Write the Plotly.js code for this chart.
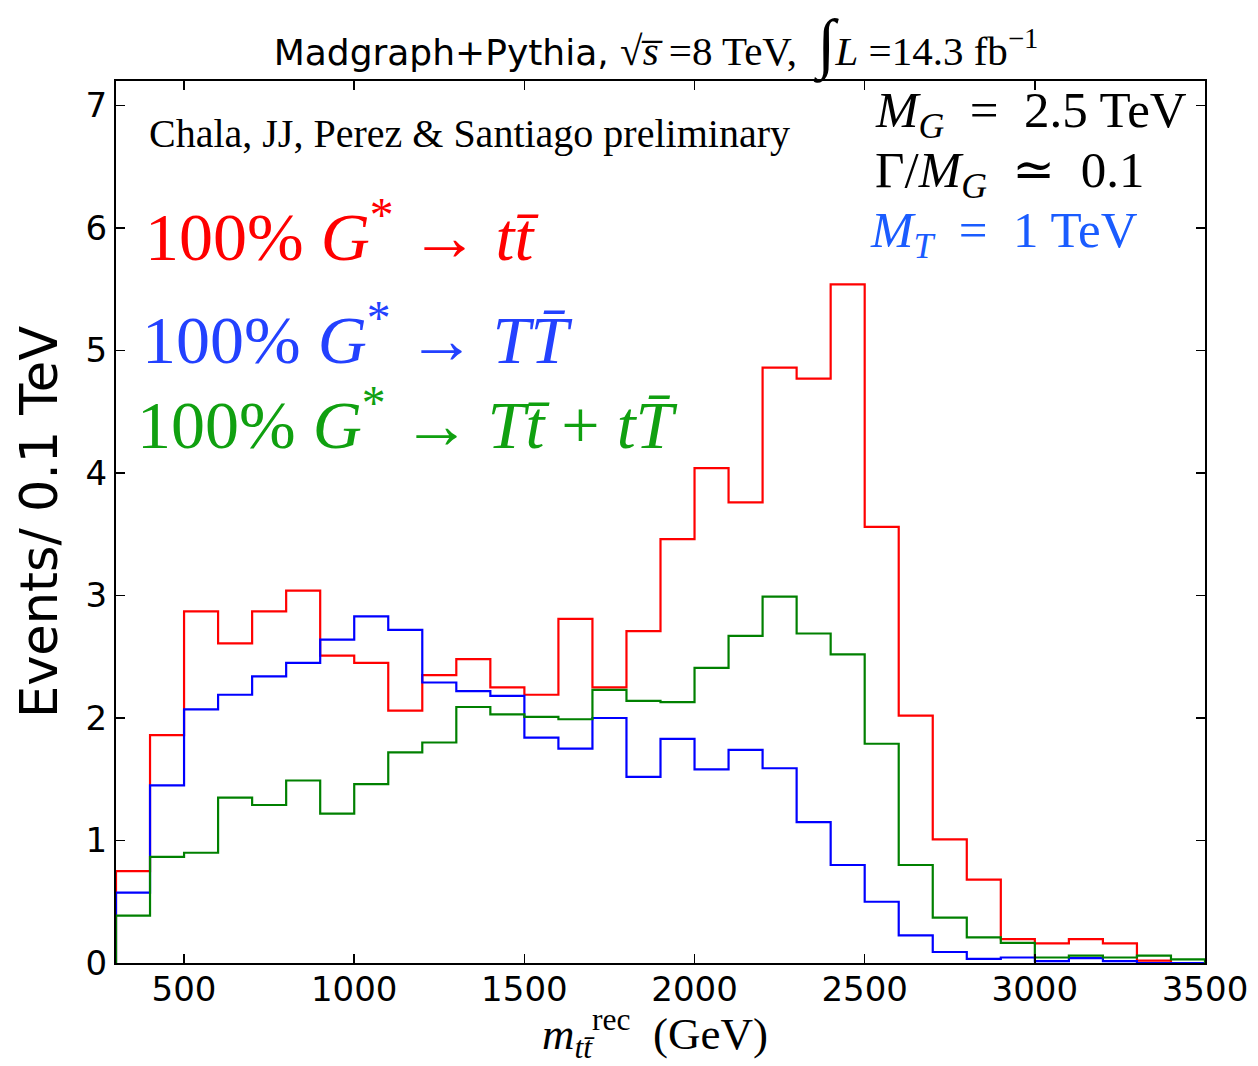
<!DOCTYPE html>
<html>
<head>
<meta charset="utf-8">
<script src="https://cdn.plot.ly/plotly-3.0.1.min.js"></script>
<style>html,body{margin:0;padding:0;background:#fff;}</style>
</head>
<body>
<div id="chart" style="width:1258px;height:1066px;"></div>
<script>
// Bin edges (GeV), 100 GeV bins from 300 to 3500
const binEdges = [300,400,500,600,700,800,900,1000,1100,1200,1300,1400,1500,1600,1700,1800,1900,2000,
                  2100,2200,2300,2400,2500,2600,2700,2800,2900,3000,3100,3200,3300,3400,3500];
// Events / 0.1 TeV per bin
const redTT = [0.75,1.86,2.87,2.61,2.87,3.04,2.51,2.45,2.06,2.35,2.48,2.25,2.19,2.81,2.25,2.71,3.46,4.04,
               3.76,4.86,4.77,5.54,3.56,2.02,1.01,0.68,0.195,0.16,0.195,0.16,0.02,0.0];
const blueTTbar = [0.574,1.45,2.07,2.19,2.34,2.45,2.64,2.83,2.72,2.29,2.22,2.18,1.84,1.75,2.00,1.52,1.83,1.58,
                   1.74,1.59,1.15,0.80,0.50,0.225,0.09,0.034,0.045,0.015,0.04,0.015,0.0,0.0];
const greenMixed = [0.386,0.866,0.90,1.35,1.29,1.49,1.22,1.46,1.72,1.80,2.09,2.03,2.01,1.99,2.23,2.14,2.13,2.41,
                    2.67,2.99,2.69,2.52,1.79,0.80,0.37,0.21,0.165,0.045,0.06,0.045,0.06,0.03];
const xTicks = [500,1000,1500,2000,2500,3000,3500];
const yTicks = [0,1,2,3,4,5,6,7];

function stepTrace(vals, color, name) {
  const x = [binEdges[0]].concat(binEdges);
  const y = [0].concat(vals).concat([0]);
  return {x: x, y: y, type: 'scatter', mode: 'lines', name: name,
          line: {shape: 'hv', color: color, width: 2.2}, hoverinfo: 'skip'};
}

const data = [
  stepTrace(redTT, '#ff0000', 'G* → tt̄'),
  stepTrace(blueTTbar, '#0000ff', 'G* → TT̄'),
  stepTrace(greenMixed, '#008000', 'G* → Tt̄ + tT̄')
];

const serif = 'Liberation Serif, DejaVu Serif, serif';
const sans = 'DejaVu Sans, sans-serif';

const layout = {
  width: 1258, height: 1066,
  paper_bgcolor: '#ffffff', plot_bgcolor: '#ffffff',
  showlegend: false,
  margin: {l: 116, r: 53, t: 81, b: 103},
  title: {
    text: 'Madgraph+Pythia, <span style="font-family:Liberation Serif;font-size:41px">√<i>s̅</i> =8 TeV,  <span style="font-size:66px">∫</span><i>L</i> =14.3 fb<sup>−1</sup></span>',
    font: {family: sans, size: 36, color: '#000'},
    xref: 'container', yref: 'container',
    x: 0.5215, xanchor: 'center', y: 0.951, yanchor: 'middle'
  },
  xaxis: {
    range: [300, 3500], tickmode: 'array', tickvals: xTicks, ticktext: xTicks.map(String),
    ticks: 'inside', ticklen: 9, tickwidth: 1.5, tickcolor: '#000',
    showline: true, linewidth: 2, linecolor: '#000', mirror: 'ticks',
    showgrid: false, zeroline: false, ticklabelstandoff: -5,
    tickfont: {family: sans, size: 34, color: '#000'},
    title: {text: ''}
  },
  yaxis: {
    range: [0, 7.2], tickmode: 'array', tickvals: yTicks, ticktext: yTicks.map(String),
    ticks: 'inside', ticklen: 9, tickwidth: 1.5, tickcolor: '#000',
    showline: true, linewidth: 2, linecolor: '#000', mirror: 'ticks',
    showgrid: false, zeroline: false,
    tickfont: {family: sans, size: 34, color: '#000'},
    title: {text: 'Events/ 0.1 TeV', font: {family: sans, size: 51, color: '#000'}, standoff: 12}
  },
  annotations: [
    {text: '<i>m</i><sub><i>tt̄</i></sub><sup>rec</sup>  (GeV)', xref: 'paper', yref: 'paper', x: 0.4953, y: -0.0800,
     xanchor: 'center', yanchor: 'middle', showarrow: false, font: {family: serif, size: 45, color: '#000'}},
    {text: 'Chala, JJ, Perez &amp; Santiago preliminary', xref: 'paper', yref: 'paper', x: 0.0287, y: 0.9407,
     xanchor: 'left', yanchor: 'middle', showarrow: false, font: {family: serif, size: 40, color: '#000'}},
    {text: '100% <i>G</i><sup>*</sup> → <i>tt̄</i>', xref: 'paper', yref: 'paper', x: 0.0251, y: 0.8284,
     xanchor: 'left', yanchor: 'middle', showarrow: false, font: {family: serif, size: 68, color: '#ff0000'}},
    {text: '100% <i>G</i><sup>*</sup> → <i>TT̄</i>', xref: 'paper', yref: 'paper', x: 0.0223, y: 0.7116,
     xanchor: 'left', yanchor: 'middle', showarrow: false, font: {family: serif, size: 68, color: '#2341ff'}},
    {text: '100% <i>G</i><sup>*</sup> → <i>Tt̄</i> + <i>tT̄</i>', xref: 'paper', yref: 'paper', x: 0.0177, y: 0.6152,
     xanchor: 'left', yanchor: 'middle', showarrow: false, font: {family: serif, size: 68, color: '#10a010'}},
    {text: '<i>M</i><sub><i>G</i></sub>  =  2.5 TeV', xref: 'paper', yref: 'paper', x: 0.6955, y: 0.9630,
     xanchor: 'left', yanchor: 'middle', showarrow: false, font: {family: serif, size: 51, color: '#000'}},
    {text: 'Γ/<i>M</i><sub><i>G</i></sub>  ≃  0.1', xref: 'paper', yref: 'paper', x: 0.6955, y: 0.8950,
     xanchor: 'left', yanchor: 'middle', showarrow: false, font: {family: serif, size: 51, color: '#000'}},
    {text: '<i>M</i><sub><i>T</i></sub>  =  1 TeV', xref: 'paper', yref: 'paper', x: 0.6907, y: 0.8270,
     xanchor: 'left', yanchor: 'middle', showarrow: false, font: {family: serif, size: 51, color: '#1a5cff'}}
  ]
};

Plotly.newPlot('chart', data, layout, {staticPlot: true, displayModeBar: false});
</script>
</body>
</html>
